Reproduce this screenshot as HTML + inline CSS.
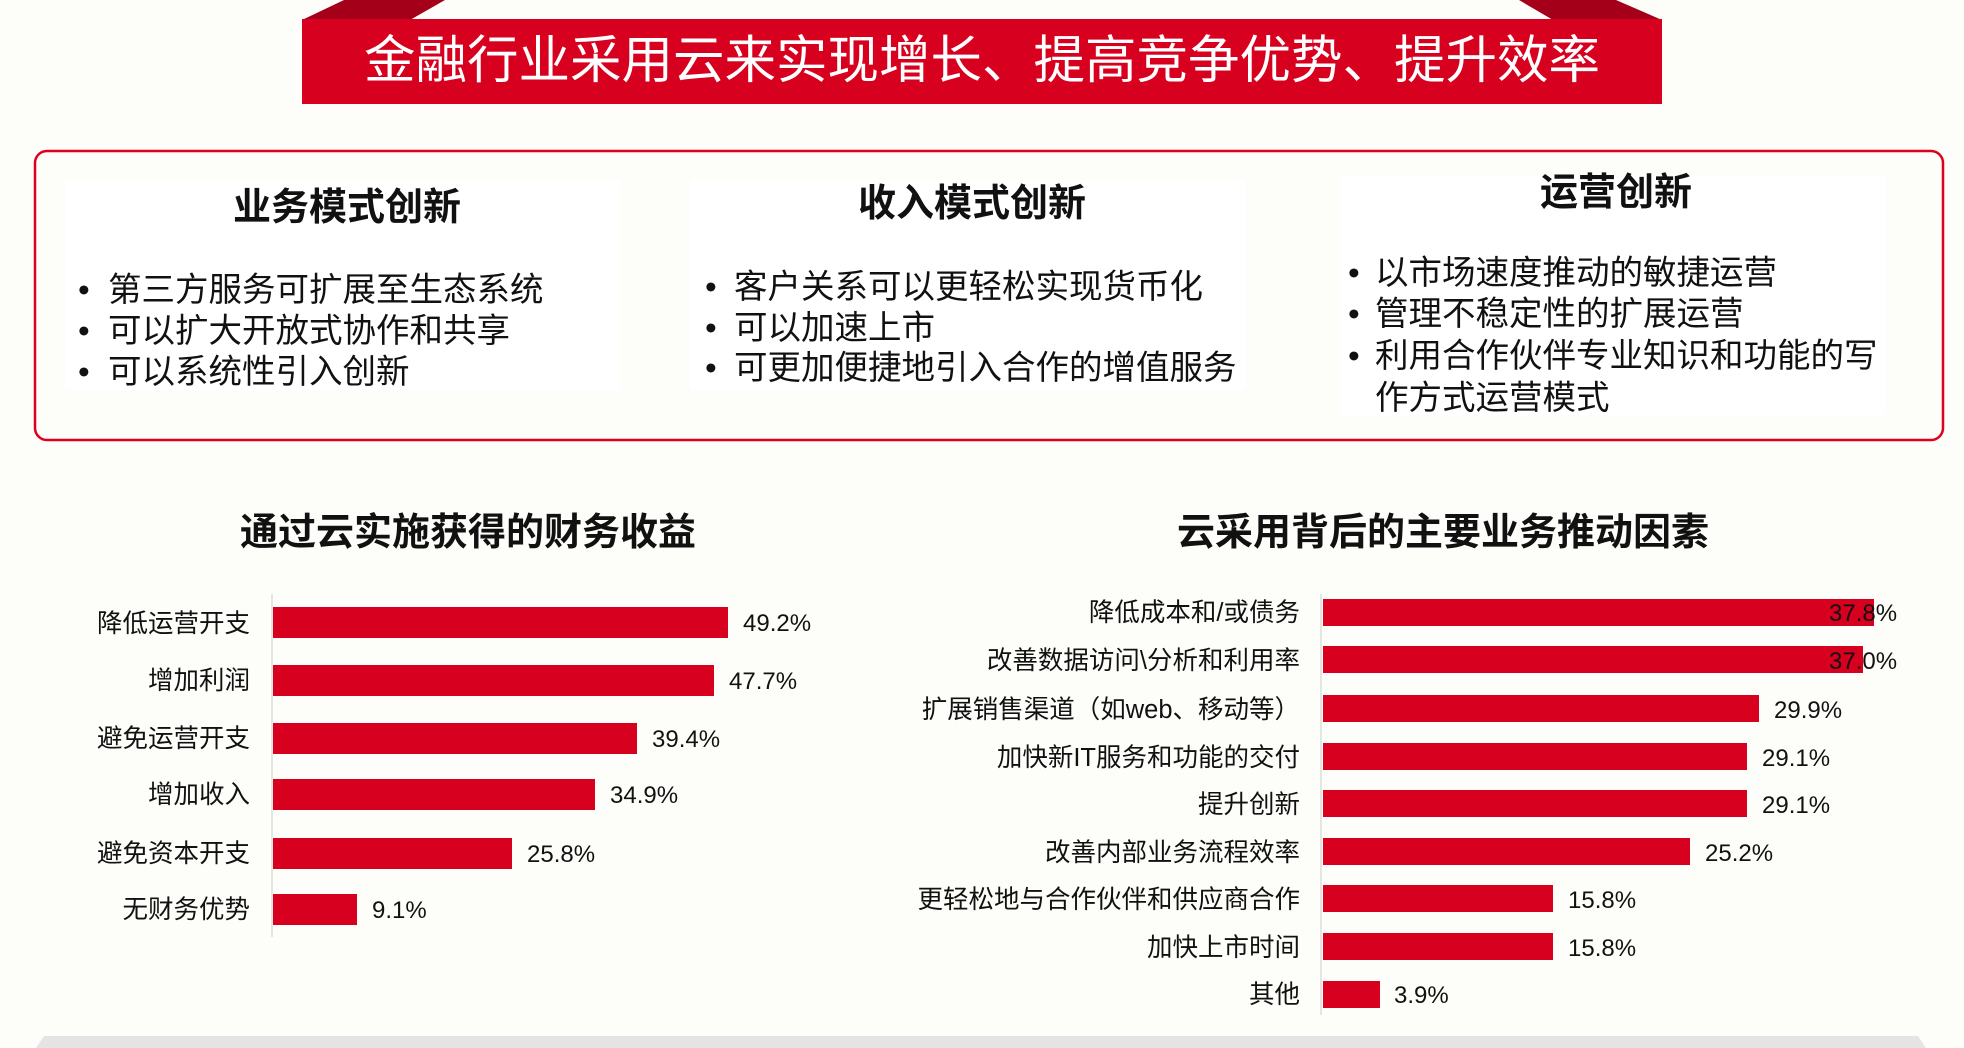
<!DOCTYPE html>
<html><head><meta charset="utf-8"><style>
html,body{margin:0;padding:0;background:#fdfdf9;}
svg{display:block}
text{font-family:"Liberation Sans","Noto Sans CJK SC",sans-serif;fill:#111;}
</style></head><body>
<svg width="1964" height="1048" viewBox="0 0 1964 1048" xmlns="http://www.w3.org/2000/svg">
<rect width="1964" height="1048" fill="#fdfdf9"/>
<polygon points="344,0 445,0 410,20 302,20" fill="#a5001a"/>
<polygon points="1519,0 1616,0 1662,20 1553,20" fill="#a5001a"/>
<rect x="302" y="19" width="1360" height="85" fill="#d7001e"/>
<text x="982" y="78" text-anchor="middle" font-size="51.5" style="fill:#fff">金融行业采用云来实现增长、提高竞争优势、提升效率</text>
<rect x="35" y="151" width="1908" height="289" rx="12" fill="#fdfdf9" stroke="#e0001e" stroke-width="2.5"/>
<rect x="65" y="180" width="555" height="210" fill="#fff"/>
<rect x="690" y="180" width="555" height="210" fill="#fff"/>
<rect x="1340" y="175" width="545" height="240" fill="#fff"/>
<g font-size="38" font-weight="bold" text-anchor="middle">
<text x="347" y="220">业务模式创新</text>
<text x="972" y="216">收入模式创新</text>
<text x="1616" y="205">运营创新</text>
</g>
<g font-size="33.5">
<text x="78" y="301">•</text><text x="108" y="301">第三方服务可扩展至生态系统</text>
<text x="78" y="342">•</text><text x="108" y="342">可以扩大开放式协作和共享</text>
<text x="78" y="383">•</text><text x="108" y="383">可以系统性引入创新</text>
<text x="705" y="298">•</text><text x="734" y="298">客户关系可以更轻松实现货币化</text>
<text x="705" y="339">•</text><text x="734" y="339">可以加速上市</text>
<text x="705" y="379">•</text><text x="734" y="379">可更加便捷地引入合作的增值服务</text>
<text x="1348" y="284">•</text><text x="1375" y="284">以市场速度推动的敏捷运营</text>
<text x="1348" y="325">•</text><text x="1375" y="325">管理不稳定性的扩展运营</text>
<text x="1348" y="367">•</text><text x="1375" y="367">利用合作伙伴专业知识和功能的写</text>
<text x="1375" y="409">作方式运营模式</text>
</g>
<g font-size="38" font-weight="bold" text-anchor="middle">
<text x="468" y="545">通过云实施获得的财务收益</text>
<text x="1443" y="545">云采用背后的主要业务推动因素</text>
</g>
<line x1="272" y1="594" x2="272" y2="937" stroke="#ddd" stroke-width="1.5"/>
<g fill="#d7001e">
<rect x="273" y="607" width="455" height="31"/>
<rect x="273" y="665" width="441" height="31"/>
<rect x="273" y="723" width="364" height="31"/>
<rect x="273" y="779" width="322" height="31"/>
<rect x="273" y="838" width="239" height="31"/>
<rect x="273" y="894" width="84" height="31"/>
</g>
<g font-size="25.5" text-anchor="end">
<text x="250" y="632">降低运营开支</text>
<text x="250" y="689">增加利润</text>
<text x="250" y="747">避免运营开支</text>
<text x="250" y="803">增加收入</text>
<text x="250" y="862">避免资本开支</text>
<text x="250" y="918">无财务优势</text>
</g>
<g font-size="24">
<text x="743" y="631">49.2%</text>
<text x="729" y="689">47.7%</text>
<text x="652" y="747">39.4%</text>
<text x="610" y="803">34.9%</text>
<text x="527" y="862">25.8%</text>
<text x="372" y="918">9.1%</text>
</g>
<line x1="1321" y1="594" x2="1321" y2="1015" stroke="#ddd" stroke-width="1.5"/>
<g fill="#d7001e">
<rect x="1323" y="599" width="551" height="27"/>
<rect x="1323" y="646" width="540" height="27"/>
<rect x="1323" y="695" width="436" height="27"/>
<rect x="1323" y="743" width="424" height="27"/>
<rect x="1323" y="790" width="424" height="27"/>
<rect x="1323" y="838" width="367" height="27"/>
<rect x="1323" y="885" width="230" height="27"/>
<rect x="1323" y="933" width="230" height="27"/>
<rect x="1323" y="981" width="57" height="27"/>
</g>
<g font-size="25.5" text-anchor="end">
<text x="1300" y="621">降低成本和/或债务</text>
<text x="1300" y="669">改善数据访问\分析和利用率</text>
<text x="1300" y="718">扩展销售渠道（如web、移动等）</text>
<text x="1300" y="766">加快新IT服务和功能的交付</text>
<text x="1300" y="813">提升创新</text>
<text x="1300" y="861">改善内部业务流程效率</text>
<text x="1300" y="908">更轻松地与合作伙伴和供应商合作</text>
<text x="1300" y="956">加快上市时间</text>
<text x="1300" y="1003">其他</text>
</g>
<g font-size="24">
<text x="1829" y="621">37.8%</text>
<text x="1829" y="669">37.0%</text>
<text x="1774" y="718">29.9%</text>
<text x="1762" y="766">29.1%</text>
<text x="1762" y="813">29.1%</text>
<text x="1705" y="861">25.2%</text>
<text x="1568" y="908">15.8%</text>
<text x="1568" y="956">15.8%</text>
<text x="1394" y="1003">3.9%</text>
</g>
<polygon points="44,1036 1918,1036 1926,1048 36,1048" fill="#e4e4e4"/>
</svg>
</body></html>
